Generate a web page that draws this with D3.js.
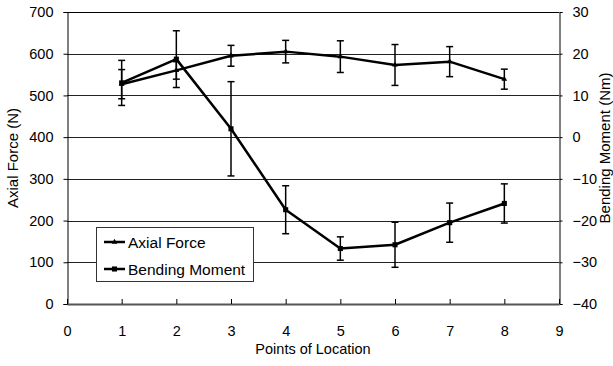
<!DOCTYPE html>
<html>
<head>
<meta charset="utf-8">
<script src="https://cdn.jsdelivr.net/npm/d3@7"></script>
<style>
  html, body { margin: 0; padding: 0; background: #fff; }
  svg { display: block; font-family: "Liberation Sans", Arial, sans-serif; }
</style>
</head>
<body>
<svg id="chart" width="613" height="366"></svg>
<script>
// Measurement points along the specimen
const locations = [1, 2, 3, 4, 5, 6, 7, 8];

// Axial force (N), mean and standard deviation
const axialForce = [527, 560, 595, 605, 593, 573, 581, 539];
const axialForceSD = [35, 21, 25, 27, 38, 49, 36, 24];

// Bending moment (Nm), mean and standard deviation
const bendingMoment = [13, 18.7, 2.0, -17.4, -26.7, -25.8, -20.5, -15.9];
const bendingMomentSD = [5.4, 6.8, 11.3, 5.75, 2.8, 5.4, 4.7, 4.7];

// Axis tick values
const xTicks = [0, 1, 2, 3, 4, 5, 6, 7, 8, 9];
const leftTicks = [0, 100, 200, 300, 400, 500, 600, 700];
const rightTicks = [-40, -30, -20, -10, 0, 10, 20, 30];

const margin = { left: 67, right: 54, top: 12, bottom: 62 };
const W = 613, H = 366;
const x0 = margin.left, x1 = W - margin.right;
const y0 = H - margin.bottom, y1 = margin.top;

const svg = d3.select("#chart");

const x = d3.scaleLinear().domain([0, 9]).range([x0, x1]);
const yL = d3.scaleLinear().domain([0, 700]).range([y0, y1]);
const yR = d3.scaleLinear().domain([-40, 30]).range([y0, y1]);

// Horizontal gridlines
svg.append("g")
  .selectAll("line")
  .data(leftTicks.filter(d => d > 0 && d < 700))
  .join("line")
  .attr("x1", x0).attr("x2", x1)
  .attr("y1", d => Math.round(yL(d)) + 0.5)
  .attr("y2", d => Math.round(yL(d)) + 0.5)
  .attr("stroke", "#222").attr("stroke-width", 1);

// Top border
svg.append("line")
  .attr("x1", x0).attr("x2", x1)
  .attr("y1", Math.round(y1) + 0.5).attr("y2", Math.round(y1) + 0.5)
  .attr("stroke", "#000").attr("stroke-width", 1);

const tickFont = 14.5;
const titleFont = 14.5;

// Left axis
const leftAxis = svg.append("g")
  .attr("transform", `translate(${x0 + 0.5},0)`)
  .call(d3.axisLeft(yL).tickValues(leftTicks).tickSize(4).tickPadding(10));
leftAxis.select(".domain").attr("stroke", "#000");
leftAxis.selectAll(".tick line").attr("stroke", "#000");
leftAxis.selectAll("text").attr("font-size", tickFont).attr("font-family", "Liberation Sans, Arial, sans-serif").attr("fill", "#000");

// Right axis
const rightAxis = svg.append("g")
  .attr("transform", `translate(${x1 + 0.5},0)`)
  .call(d3.axisRight(yR).tickValues(rightTicks).tickSize(3).tickPadding(10));
rightAxis.select(".domain").attr("stroke", "#000");
rightAxis.selectAll(".tick line").attr("stroke", "#000");
rightAxis.selectAll("text").attr("font-size", tickFont).attr("font-family", "Liberation Sans, Arial, sans-serif").attr("fill", "#000");

// Bottom axis, ticks pointing into the plot
const bottomAxis = svg.append("g")
  .attr("transform", `translate(0,${y0})`)
  .call(d3.axisBottom(x).tickValues(xTicks).tickSize(-5).tickPadding(22).tickSizeOuter(0));
bottomAxis.select(".domain").attr("stroke", "#555").attr("stroke-width", 2);
bottomAxis.selectAll(".tick line").attr("stroke", "#000");
bottomAxis.selectAll("text").attr("font-size", tickFont).attr("font-family", "Liberation Sans, Arial, sans-serif").attr("fill", "#000");

// Axis titles
svg.append("text")
  .attr("x", (x0 + x1) / 2).attr("y", 354)
  .attr("text-anchor", "middle").attr("font-size", titleFont)
  .text("Points of Location");

svg.append("text")
  .attr("transform", `translate(18,${(y0 + y1) / 2}) rotate(-90)`)
  .attr("text-anchor", "middle").attr("font-size", 15)
  .text("Axial Force (N)");

svg.append("text")
  .attr("transform", `translate(609.5,148) rotate(-90)`)
  .attr("text-anchor", "middle").attr("font-size", 15)
  .text("Bending Moment (Nm)");

// Series data
const axialData = locations.map((p, i) => ({ p, v: axialForce[i], sd: axialForceSD[i] }));
const bendData = locations.map((p, i) => ({ p, v: bendingMoment[i], sd: bendingMomentSD[i] }));

function drawErrorBars(data, yScale) {
  const g = svg.append("g").attr("stroke", "#000").attr("stroke-width", 1.5);
  g.selectAll("line.v").data(data).join("line")
    .attr("x1", d => x(d.p)).attr("x2", d => x(d.p))
    .attr("y1", d => yScale(d.v - d.sd)).attr("y2", d => yScale(d.v + d.sd));
  g.selectAll("line.t").data(data).join("line")
    .attr("x1", d => x(d.p) - 3.5).attr("x2", d => x(d.p) + 3.5)
    .attr("y1", d => yScale(d.v + d.sd)).attr("y2", d => yScale(d.v + d.sd));
  g.selectAll("line.b").data(data).join("line")
    .attr("x1", d => x(d.p) - 3.5).attr("x2", d => x(d.p) + 3.5)
    .attr("y1", d => yScale(d.v - d.sd)).attr("y2", d => yScale(d.v - d.sd));
}

drawErrorBars(axialData, yL);
drawErrorBars(bendData, yR);

const axialLine = d3.line().x(d => x(d.p)).y(d => yL(d.v));
const bendLine = d3.line().x(d => x(d.p)).y(d => yR(d.v));

svg.append("path").datum(axialData).attr("d", axialLine)
  .attr("fill", "none").attr("stroke", "#000").attr("stroke-width", 2.5).attr("stroke-linejoin", "round");
svg.append("path").datum(bendData).attr("d", bendLine)
  .attr("fill", "none").attr("stroke", "#000").attr("stroke-width", 2.5).attr("stroke-linejoin", "round");

const tri = d3.symbol().type(d3.symbolTriangle).size(14);
const sq = d3.symbol().type(d3.symbolSquare).size(26);

svg.append("g").selectAll("path").data(axialData).join("path")
  .attr("transform", d => `translate(${x(d.p)},${yL(d.v)})`)
  .attr("d", tri).attr("fill", "#000");
svg.append("g").selectAll("path").data(bendData).join("path")
  .attr("transform", d => `translate(${x(d.p)},${yR(d.v)})`)
  .attr("d", sq).attr("fill", "#000");

// Legend
const legend = svg.append("g");
legend.append("rect")
  .attr("x", 96.5).attr("y", 227.5).attr("width", 157).attr("height", 54)
  .attr("fill", "#fff").attr("stroke", "#333").attr("stroke-width", 1);

const legendItems = [
  { label: "Axial Force", symbol: tri, y: 242 },
  { label: "Bending Moment", symbol: sq, y: 269 }
];
legendItems.forEach(it => {
  legend.append("line")
    .attr("x1", 104).attr("x2", 125).attr("y1", it.y).attr("y2", it.y)
    .attr("stroke", "#000").attr("stroke-width", 2.5);
  legend.append("path")
    .attr("transform", `translate(114.5,${it.y})`)
    .attr("d", it.symbol).attr("fill", "#000");
  legend.append("text")
    .attr("x", 128).attr("y", it.y).attr("dy", "0.36em")
    .attr("font-size", 15.5).text(it.label);
});
</script>
</body>
</html>
